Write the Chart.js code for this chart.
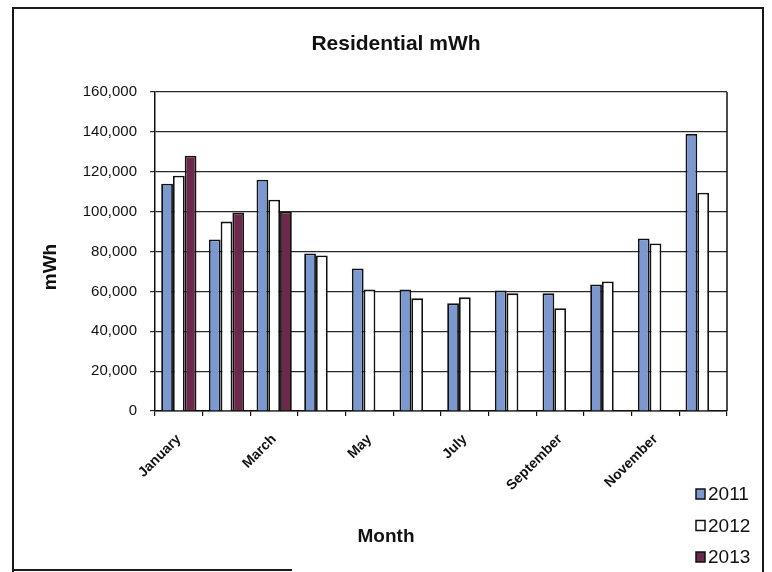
<!DOCTYPE html>
<html>
<head>
<meta charset="utf-8">
<title>Residential mWh</title>
<script src="https://cdn.jsdelivr.net/npm/chart.js@4.4.1/dist/chart.umd.min.js"></script>
<style>
  html, body { margin: 0; padding: 0; background: #fff; }
  #wrap { position: relative; width: 772px; height: 572px; overflow: hidden; }
  canvas { position: absolute; left: 0; top: 0; }
  #frame { position: absolute; left: 12px; top: 7px; width: 748px; height: 570px; border: 2px solid #1a1a1a; border-bottom: none; }
  #frame-bottom { position: absolute; left: 12px; top: 569px; width: 280px; height: 2px; background: #1a1a1a; }
</style>
</head>
<body>
<div id="wrap">
  <canvas id="chart" width="772" height="572"></canvas>
  <div id="frame"></div>
  <div id="frame-bottom"></div>
</div>
<script>
const months = ['January', 'February', 'March', 'April', 'May', 'June', 'July',
  'August', 'September', 'October', 'November', 'December'];
const shownMonths = ['January', 'March', 'May', 'July', 'September', 'November'];
const seriesNames = ['2011', '2012', '2013'];

const mwh2011 = [114000, 86000, 116000, 79000, 71500, 61000, 54000, 60500, 59000, 63500, 86500, 139000];
const mwh2012 = [118000, 95000, 106000, 78000, 61000, 56500, 57000, 59000, 51500, 65000, 84000, 109500];
const mwh2013 = [128000, 99500, 100000, null, null, null, null, null, null, null, null, null];

const yTicks = [0, 20000, 40000, 60000, 80000, 100000, 120000, 140000, 160000];

const chartTitle = 'Residential mWh';
const xTitle = 'Month';
const yTitle = 'mWh';

const FONT = "'Liberation Sans', Arial, sans-serif";
const INK = '#111';

// axis titles, right edge of the plot box and the little legend in the corner
const excelExtras = {
  id: 'excelExtras',
  afterDraw(chart) {
    const { ctx, chartArea: a } = chart;
    ctx.save();
    ctx.strokeStyle = INK;
    ctx.lineWidth = 1.5;
    ctx.beginPath();
    ctx.moveTo(a.right, a.top);
    ctx.lineTo(a.right, a.bottom);
    ctx.stroke();

    ctx.fillStyle = INK;
    ctx.font = `bold 19px ${FONT}`;
    ctx.textAlign = 'center';
    ctx.textBaseline = 'middle';
    ctx.fillText(xTitle, 386, 537);
    ctx.translate(51, 267);
    ctx.rotate(-Math.PI / 2);
    ctx.fillText(yTitle, 0, 0);
    ctx.restore();

    ctx.save();
    ctx.font = `19px ${FONT}`;
    ctx.textAlign = 'left';
    ctx.textBaseline = 'middle';
    chart.data.datasets.forEach((ds, i) => {
      const y = 494 + i * 31.5;
      ctx.fillStyle = ds.backgroundColor;
      ctx.fillRect(696, y - 5, 9, 10);
      ctx.strokeStyle = INK;
      ctx.lineWidth = 1.5;
      ctx.strokeRect(696, y - 5, 9, 10);
      ctx.fillStyle = INK;
      ctx.fillText(ds.label, 708, y + 1);
    });
    ctx.restore();
  }
};

const barStyle = { borderColor: INK, borderWidth: 1.8, categoryPercentage: 0.74, barPercentage: 1 };

new Chart(document.getElementById('chart'), {
  type: 'bar',
  data: {
    labels: months,
    datasets: [
      { label: seriesNames[0], data: mwh2011, backgroundColor: '#7c98d0', ...barStyle },
      { label: seriesNames[1], data: mwh2012, backgroundColor: '#ffffff', ...barStyle },
      { label: seriesNames[2], data: mwh2013, backgroundColor: '#6b2a4c', ...barStyle },
    ]
  },
  options: {
    responsive: false,
    animation: false,
    layout: { padding: { left: 65, right: 45, top: 0, bottom: 0 } },
    plugins: {
      legend: { display: false },
      tooltip: { enabled: false },
      title: {
        display: true,
        text: chartTitle,
        color: INK,
        font: { family: FONT, size: 21, weight: 'bold' },
        padding: { top: 32, bottom: 34.8 }
      }
    },
    scales: {
      x: {
        grid: { drawOnChartArea: false, offset: true, tickLength: 5, color: INK, lineWidth: 1.2 },
        border: { color: INK, width: 1.5 },
        ticks: {
          autoSkip: false, minRotation: 45, maxRotation: 45, padding: 15,
          color: INK, font: { family: FONT, size: 14, weight: 'bold' },
          callback: (v, i) => shownMonths.includes(months[i]) ? months[i] : ''
        },
        afterFit: s => { s.height = 161; }
      },
      y: {
        min: 0,
        max: 160000,
        afterBuildTicks: s => { s.ticks = yTicks.map(v => ({ value: v })); },
        grid: { color: '#2a2a2a', lineWidth: 1.2, tickLength: 5 },
        border: { color: INK, width: 1.5 },
        ticks: {
          padding: 13, color: INK, font: { family: FONT, size: 15 },
          callback: v => v.toLocaleString('en-US')
        },
        afterFit: s => { s.width = 90; }
      }
    }
  },
  plugins: [excelExtras]
});
</script>
</body>
</html>
